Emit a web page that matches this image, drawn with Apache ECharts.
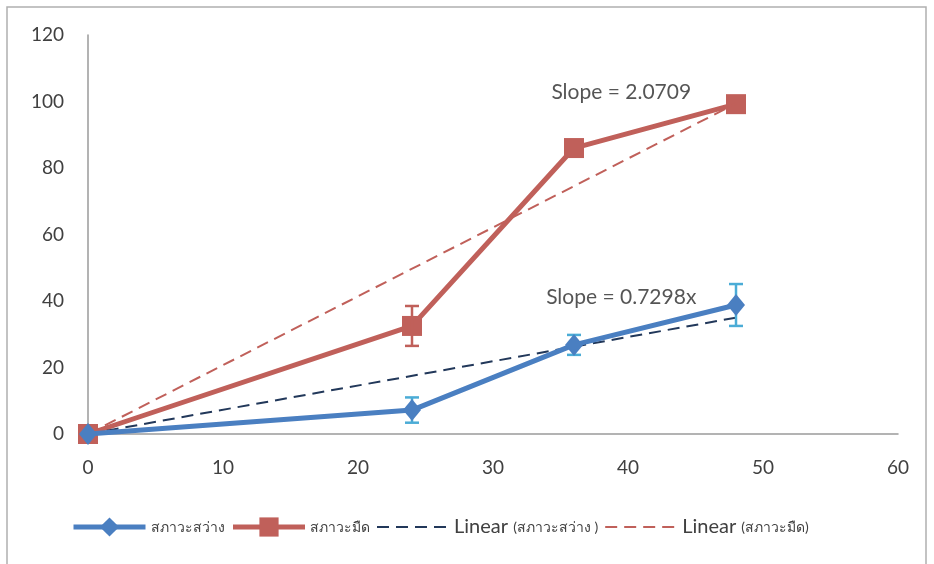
<!DOCTYPE html>
<html><head><meta charset="utf-8">
<script src="https://cdn.jsdelivr.net/npm/echarts@6/dist/echarts.min.js"></script>
<style>html,body{margin:0;padding:0;background:#fff}#c{width:934px;height:564px}</style>
</head><body><div id="c"></div>
<script>
const xValues = [0, 24, 36, 48];
const lightValues = [0, 7.2, 26.8, 38.8];
const lightErr = [0, 3.8, 3.0, 6.3];
const darkValues = [0, 32.5, 86, 99.2];
const darkErr = [0, 6.0, 0, 0];
const lightTrend = [[0, 0], [48, 35.0]];
const darkTrend = [[0, 0], [48, 99.4]];
const xTicks = [0, 10, 20, 30, 40, 50, 60];
const yTicks = [0, 20, 40, 60, 80, 100, 120];
const slopeLabels = [
  { text: 'Slope = 2.0709', x: 39.5, y: 102.9 },
  { text: 'Slope = 0.7298x', x: 39.5, y: 41.2 }
];
const names = ['สภาวะสว่าง', 'สภาวะมืด', 'Linear (สภาวะสว่าง )', 'Linear (สภาวะมืด)'];

const blue = '#4a7fc1', red = '#c0605a', errBlue = '#4bacd6', navy = '#22385a';
const font = 'Lato, "Open Sans", "Noto Sans", sans-serif';

function errSeries(vals, errs, color) {
  const d = xValues.map((x, i) => [x, vals[i] - errs[i], vals[i] + errs[i]]).filter((d, i) => errs[i] > 0);
  return {
    type: 'custom', z: 5, silent: true,
    data: d,
    renderItem: function (params, api) {
      const lo = api.coord([api.value(0), api.value(1)]);
      const hi = api.coord([api.value(0), api.value(2)]);
      const w = 7;
      const st = { stroke: color, lineWidth: 2.5 };
      return { type: 'group', children: [
        { type: 'line', shape: { x1: lo[0], y1: lo[1], x2: hi[0], y2: hi[1] }, style: st },
        { type: 'line', shape: { x1: lo[0] - w, y1: lo[1], x2: lo[0] + w, y2: lo[1] }, style: st },
        { type: 'line', shape: { x1: hi[0] - w, y1: hi[1], x2: hi[0] + w, y2: hi[1] }, style: st }
      ]};
    }
  };
}

const hidden = { color: 'rgba(0,0,0,0)', borderWidth: 0, opacity: 0 };
const chart = echarts.init(document.getElementById('c'));
chart.setOption({
  backgroundColor: '#fff',
  animation: false,
  graphic: [{ type: 'rect', shape: { x: 7, y: 7, width: 919, height: 560 }, style: { fill: 'none', stroke: '#b0b0b0', lineWidth: 1.5 }, z: -1 }],
  grid: { left: 88, right: 36, top: 35, bottom: 130 },
  xAxis: {
    type: 'value', min: xTicks[0], max: xTicks[xTicks.length - 1], interval: 10,
    axisLine: { lineStyle: { color: '#9a9a9a', width: 1.5 } },
    axisTick: { show: false }, splitLine: { show: false },
    axisLabel: { fontSize: 19, color: '#404040', fontFamily: font, margin: 24 }
  },
  yAxis: {
    type: 'value', min: yTicks[0], max: yTicks[yTicks.length - 1], interval: 20,
    axisLine: { show: true, lineStyle: { color: '#9a9a9a', width: 1.5 } },
    axisTick: { show: false }, splitLine: { show: false },
    axisLabel: { fontSize: 19, color: '#404040', fontFamily: font, margin: 24 }
  },
  legend: {
    data: [
      { name: names[0], lineStyle: { width: 5 } },
      { name: names[1], lineStyle: { width: 5 } },
      { name: names[2], itemStyle: hidden },
      { name: names[3], itemStyle: hidden }
    ],
    left: 66, top: 512, itemWidth: 72, itemHeight: 24, itemGap: 6,
    textStyle: { fontSize: 14, color: '#404040', fontFamily: font,
      rich: { l: { fontSize: 20, color: '#404040', fontFamily: font }, t: { fontSize: 14, color: '#404040', fontFamily: font } } },
    formatter: function (n) {
      if (n.indexOf('Linear') === 0) return '{l|Linear }{t|' + n.slice(7) + '}';
      return n;
    }
  },
  series: [
    { name: names[2], type: 'line', data: lightTrend, symbol: 'none', z: 4,
      lineStyle: { color: navy, width: 2, type: [12, 7] }, itemStyle: { color: navy } },
    { name: names[3], type: 'line', data: darkTrend, symbol: 'none', z: 4,
      lineStyle: { color: red, width: 2, type: [12, 7] }, itemStyle: { color: red } },
    { name: names[1], type: 'line', data: xValues.map((x, i) => [x, darkValues[i]]), z: 3,
      symbol: 'rect', symbolSize: 20, lineStyle: { color: red, width: 5 }, itemStyle: { color: red } },
    { name: names[0], type: 'line', data: xValues.map((x, i) => [x, lightValues[i]]), z: 6,
      symbol: 'diamond', symbolSize: [18, 22], lineStyle: { color: blue, width: 5 }, itemStyle: { color: blue } },
    errSeries(lightValues, lightErr, errBlue),
    errSeries(darkValues, darkErr, red),
    { type: 'scatter', silent: true, symbolSize: 1, itemStyle: { color: 'transparent' }, z: 7,
      data: slopeLabels.map(s => ({ value: [s.x, s.y], label: { show: true, position: 'inside', formatter: s.text,
        fontSize: 21, color: '#2a2a2a', fontFamily: font } })) }
  ]
});
</script></body></html>
